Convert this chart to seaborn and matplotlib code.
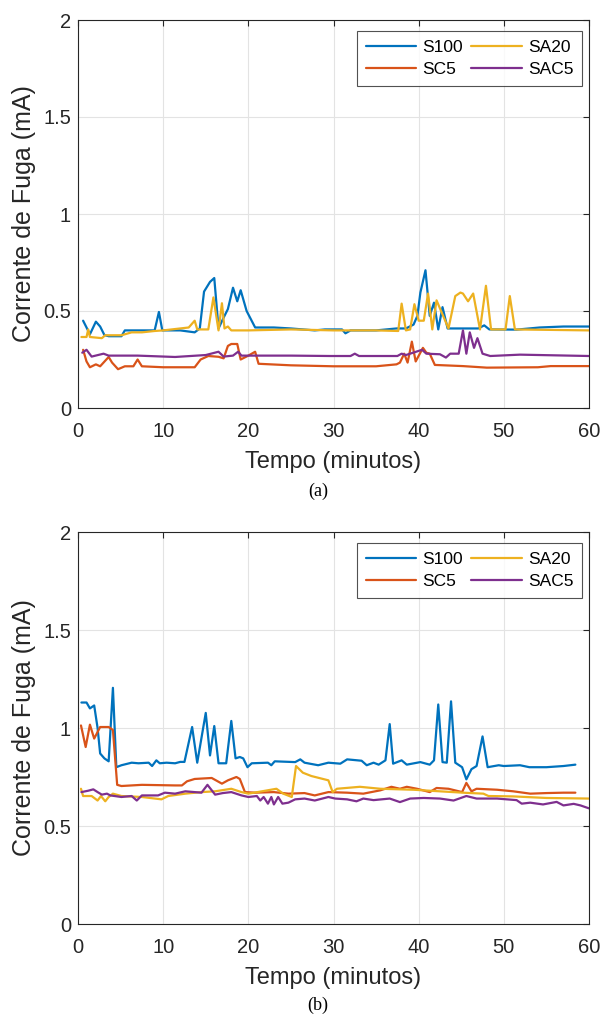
import numpy as np
import pandas as pd
import matplotlib
matplotlib.use("Agg")
import matplotlib.pyplot as plt
import seaborn as sns

# ---------------- data: panel (a) ----------------
a_s100_t = [0.6,1.4,2.1,2.6,3.1,3.6,5.1,5.5,7.0,9.0,9.5,9.9,12.0,13.7,14.3,14.8,15.5,16.0,16.5,17.1,17.6,18.2,18.7,19.1,19.8,20.8,23.0,25.0,27.8,29.0,31.0,31.4,32.0,35.0,37.4,38.5,39.4,39.85,40.2,40.8,41.3,41.8,42.3,42.8,43.4,45.0,47.0,47.7,48.3,51.5,54.2,57.0,60.0]
a_s100_v = [0.45,0.38,0.445,0.42,0.376,0.37,0.37,0.40,0.40,0.40,0.495,0.40,0.40,0.39,0.41,0.60,0.65,0.67,0.41,0.466,0.51,0.62,0.55,0.607,0.50,0.415,0.415,0.41,0.40,0.405,0.405,0.385,0.40,0.40,0.41,0.41,0.43,0.475,0.595,0.71,0.475,0.543,0.405,0.52,0.41,0.41,0.41,0.426,0.405,0.404,0.415,0.42,0.42]

a_sa20_t = [0.4,1.0,1.2,1.4,2.8,3.2,5.1,6.3,7.5,9.0,10.0,13.0,13.7,14.0,15.3,15.9,16.5,16.9,17.2,17.6,18.0,20.0,25.0,30.0,35.0,37.6,38.0,38.5,39.0,39.5,40.0,40.6,41.1,41.6,42.1,43.5,44.3,44.9,45.2,45.8,46.4,47.2,47.9,48.5,50.2,50.7,51.3,53.0,60.0]
a_sa20_v = [0.366,0.366,0.405,0.366,0.36,0.375,0.375,0.39,0.39,0.397,0.40,0.415,0.45,0.405,0.405,0.57,0.40,0.54,0.41,0.42,0.40,0.40,0.405,0.40,0.40,0.397,0.538,0.40,0.405,0.535,0.45,0.45,0.59,0.405,0.555,0.41,0.577,0.595,0.59,0.55,0.59,0.405,0.63,0.405,0.405,0.577,0.405,0.404,0.40]

a_sc5_t = [0.6,1.0,1.4,2.1,2.6,3.6,4.0,4.7,5.5,6.5,7.0,7.5,10.0,13.7,14.4,15.3,16.5,17.1,17.6,18.0,18.7,19.1,20.0,20.8,21.2,25.0,30.0,35.0,37.4,37.8,38.3,38.7,39.2,39.65,40.1,40.5,40.9,41.3,41.9,45.2,48.0,54.0,55.5,60.0]
a_sc5_v = [0.30,0.24,0.21,0.225,0.215,0.263,0.234,0.20,0.215,0.215,0.25,0.215,0.21,0.21,0.25,0.268,0.264,0.256,0.32,0.33,0.33,0.25,0.27,0.29,0.228,0.22,0.215,0.215,0.225,0.234,0.28,0.234,0.342,0.24,0.277,0.31,0.285,0.28,0.222,0.216,0.208,0.21,0.216,0.216]

a_sac5_t = [0.5,1.0,1.6,3.0,3.6,7.0,11.4,15.0,16.5,17.1,18.2,18.8,19.2,25.0,29.6,32.0,32.5,33.0,37.5,38.0,38.5,40.4,40.9,42.5,43.2,43.7,44.7,45.2,45.6,46.0,46.5,46.9,47.5,48.4,51.9,60.0]
a_sac5_v = [0.285,0.30,0.265,0.28,0.27,0.27,0.263,0.273,0.29,0.265,0.27,0.29,0.27,0.27,0.268,0.268,0.28,0.268,0.268,0.28,0.273,0.30,0.28,0.277,0.26,0.28,0.28,0.40,0.28,0.39,0.31,0.36,0.28,0.268,0.275,0.268]

# ---------------- data: panel (b) ----------------
b_s100_t = [0.4,1.0,1.4,1.9,2.3,2.6,3.1,3.6,4.1,4.5,5.1,6.3,7.1,8.3,8.7,9.2,9.6,10.4,11.4,12.0,12.5,13.4,14.0,15.0,15.5,16.0,16.5,17.4,18.0,18.5,19.0,19.4,19.9,20.4,22.3,22.7,23.1,25.5,26.1,26.6,28.2,29.4,30.8,31.6,33.3,33.9,34.7,35.3,36.1,36.6,37.0,38.0,38.6,40.2,41.3,41.8,42.3,42.8,43.3,43.8,44.3,45.1,45.6,46.2,46.8,47.5,48.1,49.4,50.0,51.9,53.0,55.0,57.0,58.4]
b_s100_v = [1.13,1.13,1.10,1.115,1.0,0.87,0.845,0.83,1.205,0.80,0.81,0.823,0.82,0.823,0.806,0.835,0.82,0.823,0.82,0.827,0.827,1.005,0.823,1.077,0.86,1.01,0.82,0.82,1.036,0.845,0.852,0.845,0.80,0.82,0.823,0.81,0.83,0.826,0.84,0.823,0.81,0.823,0.818,0.84,0.833,0.81,0.823,0.813,0.835,1.02,0.818,0.835,0.813,0.826,0.813,0.835,1.12,0.826,0.823,1.136,0.823,0.80,0.738,0.79,0.806,0.957,0.80,0.81,0.806,0.81,0.80,0.80,0.806,0.813]

b_sc5_t = [0.35,0.9,1.4,1.9,2.6,3.6,4.1,4.6,5.1,7.5,11.4,12.2,12.8,13.7,15.7,16.9,17.6,18.6,19.0,19.6,20.8,23.0,24.7,26.6,27.8,29.4,31.6,33.5,35.5,36.8,37.8,38.6,39.8,41.3,42.1,43.5,45.1,45.6,46.2,46.8,49.2,51.1,53.1,55.0,57.0,58.4]
b_sc5_v = [1.013,0.903,1.017,0.946,1.005,1.005,0.99,0.71,0.704,0.71,0.707,0.707,0.728,0.74,0.745,0.716,0.733,0.75,0.74,0.673,0.67,0.673,0.665,0.668,0.656,0.673,0.67,0.665,0.682,0.70,0.69,0.70,0.69,0.673,0.694,0.69,0.673,0.72,0.677,0.69,0.685,0.677,0.665,0.668,0.67,0.67]

b_sa20_t = [0.35,0.6,1.6,2.3,2.7,3.2,3.6,4.1,5.1,7.5,9.8,10.6,12.6,14.5,16.1,18.0,19.2,20.0,21.6,23.3,24.1,25.1,25.6,26.4,27.4,29.4,29.9,30.4,33.1,35.5,39.4,41.3,45.2,47.6,48.2,51.1,55.0,60.0]
b_sa20_v = [0.69,0.653,0.653,0.63,0.653,0.626,0.648,0.665,0.653,0.648,0.636,0.653,0.665,0.673,0.677,0.69,0.673,0.665,0.677,0.69,0.665,0.648,0.806,0.772,0.755,0.733,0.673,0.69,0.70,0.69,0.685,0.68,0.67,0.665,0.653,0.651,0.643,0.64]

b_sac5_t = [0.4,1.2,1.8,2.3,2.8,3.4,3.8,5.1,6.3,6.9,7.5,9.4,10.2,11.4,12.6,14.5,15.2,16.1,17.0,18.0,19.2,20.0,21.0,21.4,21.8,22.3,22.7,23.0,23.5,24.0,24.7,25.5,26.6,27.8,29.4,30.2,31.6,32.7,33.5,34.7,36.6,37.8,39.0,40.6,42.5,44.1,45.6,46.8,49.2,51.5,52.1,53.1,54.6,56.2,57.0,58.2,59.0,60.0]
b_sac5_v = [0.673,0.68,0.687,0.673,0.66,0.665,0.656,0.648,0.653,0.63,0.656,0.656,0.67,0.665,0.677,0.67,0.71,0.66,0.668,0.673,0.656,0.648,0.653,0.63,0.648,0.614,0.648,0.61,0.648,0.614,0.619,0.636,0.64,0.63,0.648,0.64,0.636,0.626,0.64,0.632,0.64,0.622,0.64,0.643,0.64,0.63,0.653,0.64,0.64,0.632,0.614,0.619,0.61,0.623,0.605,0.613,0.605,0.59]

series_names = ["S100", "SC5", "SA20", "SAC5"]
palette = {"S100": "#0072BD", "SC5": "#D95319", "SA20": "#EDB120", "SAC5": "#7E2F8E"}
x_ticks = [0, 10, 20, 30, 40, 50, 60]
y_ticks = [0, 0.5, 1, 1.5, 2]
y_tick_labels = ["0", "0.5", "1", "1.5", "2"]
xlabel = "Tempo (minutos)"
ylabel = "Corrente de Fuga (mA)"
captions = ["(a)", "(b)"]


def make_df(pairs):
    frames = []
    for name, (t, v) in pairs.items():
        frames.append(pd.DataFrame({"t": t, "v": v, "serie": name}))
    return pd.concat(frames, ignore_index=True)


df_a = make_df({"S100": (a_s100_t, a_s100_v), "SC5": (a_sc5_t, a_sc5_v),
                "SA20": (a_sa20_t, a_sa20_v), "SAC5": (a_sac5_t, a_sac5_v)})
df_b = make_df({"S100": (b_s100_t, b_s100_v), "SC5": (b_sc5_t, b_sc5_v),
                "SA20": (b_sa20_t, b_sa20_v), "SAC5": (b_sac5_t, b_sac5_v)})

sns.set_style("white")
plt.rcParams["font.family"] = ["Liberation Sans", "DejaVu Sans"]
dark = "#262626"

fig = plt.figure(figsize=(6.03, 10.15), dpi=100)
W, H = 603, 1015
L, R = 78, 589
panels = [(df_a, 20, 408, 491), (df_b, 532, 924, 1005)]

for i, (df, top, bot, cap_y) in enumerate(panels):
    ax = fig.add_axes([L / W, 1 - bot / H, (R - L) / W, (bot - top) / H])
    sns.lineplot(data=df, x="t", y="v", hue="serie", hue_order=series_names,
                 palette=palette, estimator=None, sort=False, linewidth=1.6, ax=ax)
    ax.set_xlim(0, 60)
    ax.set_ylim(0, 2)
    ax.set_xticks(x_ticks)
    ax.set_yticks(y_ticks)
    ax.set_yticklabels(y_tick_labels)
    ax.grid(True, color="#e3e3e3", linewidth=0.8)
    ax.set_axisbelow(True)
    for sp in ax.spines.values():
        sp.set_color(dark)
        sp.set_linewidth(0.8)
        sp.set_visible(True)
    ax.tick_params(direction="in", length=4, width=0.8, colors=dark,
                   labelsize=14.5, top=True, right=True)
    ax.tick_params(axis="x", pad=10)
    ax.tick_params(axis="y", pad=5)
    ax.set_xlabel(xlabel, fontsize=17, color=dark, labelpad=7)
    ax.set_ylabel(ylabel, fontsize=18, color=dark, labelpad=5)
    ax_h = bot - top
    leg = ax.legend(loc="upper right", ncol=2, fontsize=12.5, frameon=True,
                    fancybox=False, edgecolor=dark, handlelength=2.9,
                    columnspacing=0.5, handletextpad=0.35, borderpad=0.5,
                    labelspacing=0.4, borderaxespad=0.0,
                    bbox_to_anchor=((582 - L) / (R - L), 1 - 11 / ax_h))
    leg.get_frame().set_linewidth(0.8)
    for txt in leg.get_texts():
        txt.set_color("black")
    fig.text(318 / W, 1 - cap_y / H, captions[i], ha="center", va="center",
             fontsize=13, family=["Liberation Serif", "DejaVu Serif"], color="black")

fig.savefig("out.png", dpi=100)
